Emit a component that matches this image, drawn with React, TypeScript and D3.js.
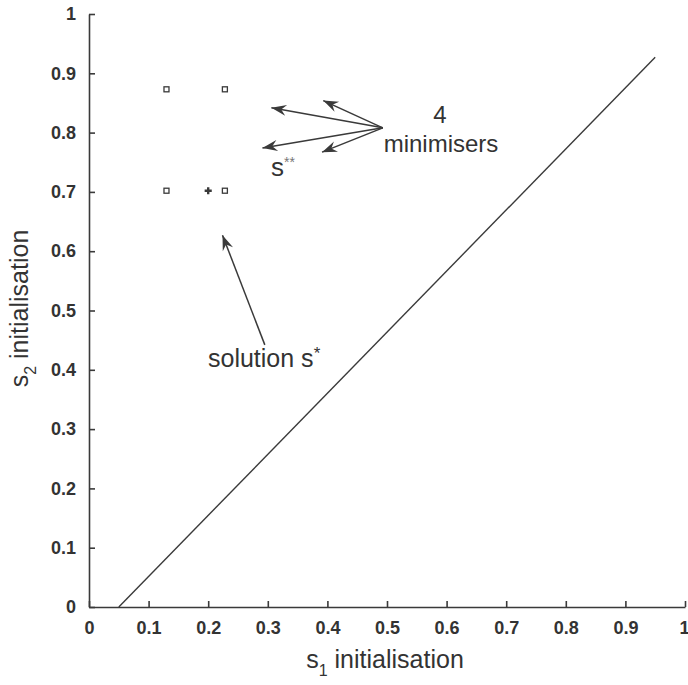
import React, { useEffect, useRef } from 'react';
import * as d3 from 'd3';

// axis ticks
const xTicks = [0, 0.1, 0.2, 0.3, 0.4, 0.5, 0.6, 0.7, 0.8, 0.9, 1];
const yTicks = [0, 0.1, 0.2, 0.3, 0.4, 0.5, 0.6, 0.7, 0.8, 0.9, 1];
const tickLabels = ['0', '0.1', '0.2', '0.3', '0.4', '0.5', '0.6', '0.7', '0.8', '0.9', '1'];

// the four minimisers (squares) and the solution s* (plus)
const minimiserS1 = [0.13, 0.228, 0.13, 0.228];
const minimiserS2 = [0.873, 0.873, 0.702, 0.702];
const solutionS1 = [0.2];
const solutionS2 = [0.702];

// straight boundary line
const boundaryS1 = [0.05, 0.95];
const boundaryS2 = [0, 0.927];

// annotation arrows: common origin and the four tips
const arrowOrigin: [number, number] = [0.493, 0.808];
const arrowTipS1 = [0.306, 0.393, 0.291, 0.391];
const arrowTipS2 = [0.842, 0.854, 0.774, 0.767];
const solArrowFrom: [number, number] = [0.295, 0.442];
const solArrowTo: [number, number] = [0.224, 0.627];

const App: React.FC = () => {
  const chartRef = useRef<SVGSVGElement | null>(null);

  useEffect(() => {
    document.body.style.margin = '0';
    drawGraph();
  }, []);

  const drawGraph = () => {
    const width = 688;
    const height = 685;
    const margin = { top: 14, right: 3, bottom: 78, left: 89 };
    const ink = '#3a3a3a';
    const font = '"Liberation Sans", Arial, sans-serif';

    const svg = d3.select(chartRef.current);
    svg.selectAll('*').remove();
    svg.attr('width', width).attr('height', height);

    const xScale = d3.scaleLinear().domain([0, 1]).range([margin.left, width - margin.right]);
    const yScale = d3.scaleLinear().domain([0, 1]).range([height - margin.bottom, margin.top]);

    const defs = svg.append('defs');
    defs
      .append('marker')
      .attr('id', 'head')
      .attr('markerUnits', 'userSpaceOnUse')
      .attr('viewBox', '-16 -7 18 14')
      .attr('markerWidth', 18)
      .attr('markerHeight', 14)
      .attr('refX', 0)
      .attr('refY', 0)
      .attr('orient', 'auto')
      .append('path')
      .attr('d', 'M0,0 L-15,-5.5 L-10,0 L-15,5.5 Z')
      .attr('fill', ink);

    // x axis
    const xAxis = svg
      .append('g')
      .attr('transform', `translate(0,${yScale(0)})`)
      .call(
        d3
          .axisBottom(xScale)
          .tickValues(xTicks)
          .tickFormat((d, i) => tickLabels[i])
          .tickSizeInner(-6)
          .tickSizeOuter(0)
          .tickPadding(14)
      );
    // keep the last label inside the picture
    xAxis.selectAll<SVGTextElement, number>('.tick text').filter((d) => d === 1).attr('text-anchor', 'end').attr('dx', 4);

    // y axis
    const yAxis = svg
      .append('g')
      .attr('transform', `translate(${xScale(0)},0)`)
      .call(
        d3
          .axisLeft(yScale)
          .tickValues(yTicks)
          .tickFormat((d, i) => tickLabels[i])
          .tickSizeInner(-6)
          .tickSizeOuter(0)
          .tickPadding(13)
      );

    [xAxis, yAxis].forEach((ax) => {
      ax.select('.domain').attr('stroke', ink).attr('stroke-width', 1.6);
      ax.selectAll('.tick line').attr('stroke', ink).attr('stroke-width', 1.6);
      ax.selectAll('.tick text')
        .attr('fill', '#333')
        .style('font-family', font)
        .style('font-size', '18px')
        .style('font-weight', 'bold');
    });

    // axis titles
    const xTitle = svg
      .append('text')
      .attr('x', xScale(0.5) - 2)
      .attr('y', 668)
      .attr('text-anchor', 'middle')
      .attr('fill', '#333')
      .style('font-family', font)
      .style('font-size', '25px');
    xTitle.append('tspan').text('s');
    xTitle.append('tspan').attr('dy', 8).style('font-size', '16px').text('1');
    xTitle.append('tspan').attr('dy', -8).text(' initialisation');

    const yTitle = svg
      .append('text')
      .attr('transform', `translate(28,${yScale(0.5) - 2}) rotate(-90)`)
      .attr('text-anchor', 'middle')
      .attr('fill', '#333')
      .style('font-family', font)
      .style('font-size', '25px');
    yTitle.append('tspan').text('s');
    yTitle.append('tspan').attr('dy', 8).style('font-size', '16px').text('2');
    yTitle.append('tspan').attr('dy', -8).text(' initialisation');

    // boundary line
    const line = d3
      .line<number>()
      .x((d) => xScale(boundaryS1[d]))
      .y((d) => yScale(boundaryS2[d]));
    svg
      .append('path')
      .datum(boundaryS1.map((_, i) => i))
      .attr('d', line)
      .attr('fill', 'none')
      .attr('stroke', ink)
      .attr('stroke-width', 1.4);

    // minimisers
    const sq = 5;
    svg
      .selectAll('.minimiser')
      .data(minimiserS1.map((s1, i) => ({ s1, s2: minimiserS2[i] })))
      .enter()
      .append('rect')
      .attr('class', 'minimiser')
      .attr('x', (d) => xScale(d.s1) - sq / 2)
      .attr('y', (d) => yScale(d.s2) - sq / 2)
      .attr('width', sq)
      .attr('height', sq)
      .attr('fill', 'none')
      .attr('stroke', ink)
      .attr('stroke-width', 1.3);

    // solution s*
    const plus = d3.symbol().type(d3.symbolCross).size(28);
    svg
      .selectAll('.solution')
      .data(solutionS1.map((s1, i) => ({ s1, s2: solutionS2[i] })))
      .enter()
      .append('path')
      .attr('class', 'solution')
      .attr('transform', (d) => `translate(${xScale(d.s1)},${yScale(d.s2)})`)
      .attr('d', plus)
      .attr('fill', ink);

    // arrows to the minimisers
    svg
      .selectAll('.arrow')
      .data(arrowTipS1.map((s1, i) => ({ s1, s2: arrowTipS2[i] })))
      .enter()
      .append('line')
      .attr('class', 'arrow')
      .attr('x1', xScale(arrowOrigin[0]))
      .attr('y1', yScale(arrowOrigin[1]))
      .attr('x2', (d) => xScale(d.s1))
      .attr('y2', (d) => yScale(d.s2))
      .attr('stroke', ink)
      .attr('stroke-width', 1.5)
      .attr('marker-end', 'url(#head)');

    svg
      .append('line')
      .attr('x1', xScale(solArrowFrom[0]))
      .attr('y1', yScale(solArrowFrom[1]))
      .attr('x2', xScale(solArrowTo[0]))
      .attr('y2', yScale(solArrowTo[1]))
      .attr('stroke', ink)
      .attr('stroke-width', 1.5)
      .attr('marker-end', 'url(#head)');

    // annotation text
    const note = svg.append('g').attr('fill', '#333').style('font-family', font);
    note
      .append('text')
      .attr('x', 440)
      .attr('y', 123)
      .attr('text-anchor', 'middle')
      .style('font-size', '24px')
      .text('4');
    note
      .append('text')
      .attr('x', 441)
      .attr('y', 152)
      .attr('text-anchor', 'middle')
      .style('font-size', '24px')
      .text('minimisers');

    const sss = note.append('text').attr('x', 271).attr('y', 176).style('font-size', '26px');
    sss.append('tspan').text('s');
    sss.append('tspan').attr('dy', -9).attr('fill', '#777').style('font-size', '14px').text('**');

    const sol = note.append('text').attr('x', 208).attr('y', 367).style('font-size', '25px');
    sol.append('tspan').text('solution s');
    sol.append('tspan').attr('dy', -8).style('font-size', '17px').text('*');
  };

  return <svg ref={chartRef}></svg>;
};

export default App;
